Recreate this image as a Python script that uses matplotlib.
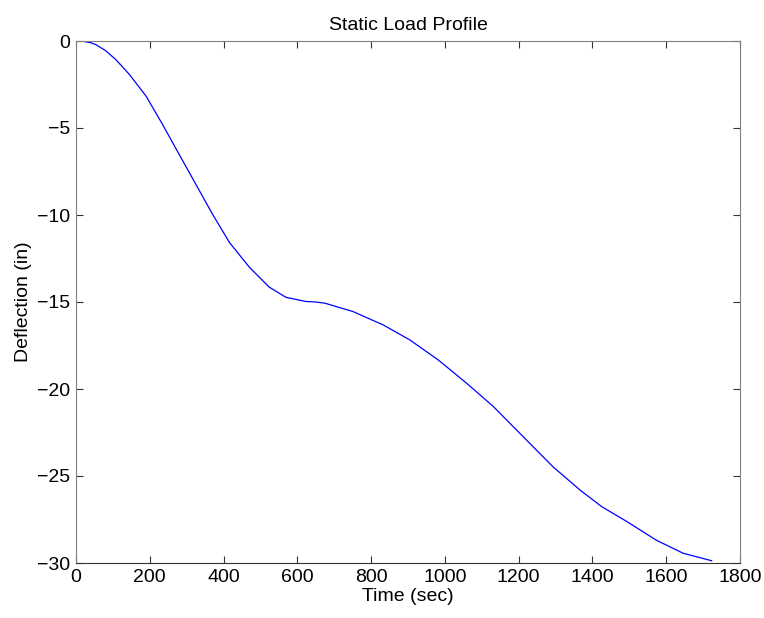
import matplotlib
matplotlib.use("Agg")
import matplotlib.pyplot as plt

# Deflection vs time
time_sec = [0, 20, 40, 54, 80, 108, 145, 190, 235, 280, 325, 370, 416, 470, 524, 569, 623, 650,
            675, 751, 833, 905, 982, 1059, 1131, 1194, 1293, 1366, 1425, 1492, 1574, 1646, 1723]
deflection_in = [0.0, -0.02, -0.1, -0.21, -0.55, -1.07, -1.93, -3.17, -4.81, -6.53, -8.24, -9.95,
                 -11.58, -13.0, -14.15, -14.73, -14.97, -15.0, -15.07, -15.55, -16.32, -17.18, -18.33,
                 -19.67, -21.0, -22.35, -24.47, -25.8, -26.76, -27.6, -28.7, -29.44, -29.87]

x_ticks = [0, 200, 400, 600, 800, 1000, 1200, 1400, 1600, 1800]
y_ticks = [0, -5, -10, -15, -20, -25, -30]

plt.rcParams['font.family'] = ['Liberation Sans', 'DejaVu Sans']

fig = plt.figure(figsize=(7.64, 6.18), dpi=100)
ax = fig.add_axes([76 / 764, 55 / 618, 664 / 764, 522 / 618])

ax.plot(time_sec, deflection_in, color='#0000ff', linewidth=0.9)

ax.set_xlim(0, 1800)
ax.set_ylim(-30, 0)
ax.set_xticks(x_ticks)
ax.set_yticks(y_ticks)

ax.tick_params(direction='in', length=5, width=0.8, top=True, right=True,
               labelsize=14, colors='#333333', labelcolor='black', pad=4)
for side in ['left', 'top', 'right']:
    ax.spines[side].set_color('#808080')
ax.spines['bottom'].set_color('#333333')

ax.set_title('Static Load Profile', fontsize=14, pad=8)
ax.set_xlabel('Time (sec)', fontsize=14, labelpad=2)
ax.set_ylabel('Deflection (in)', fontsize=14, labelpad=4)

fig.savefig('out.png', dpi=100)
